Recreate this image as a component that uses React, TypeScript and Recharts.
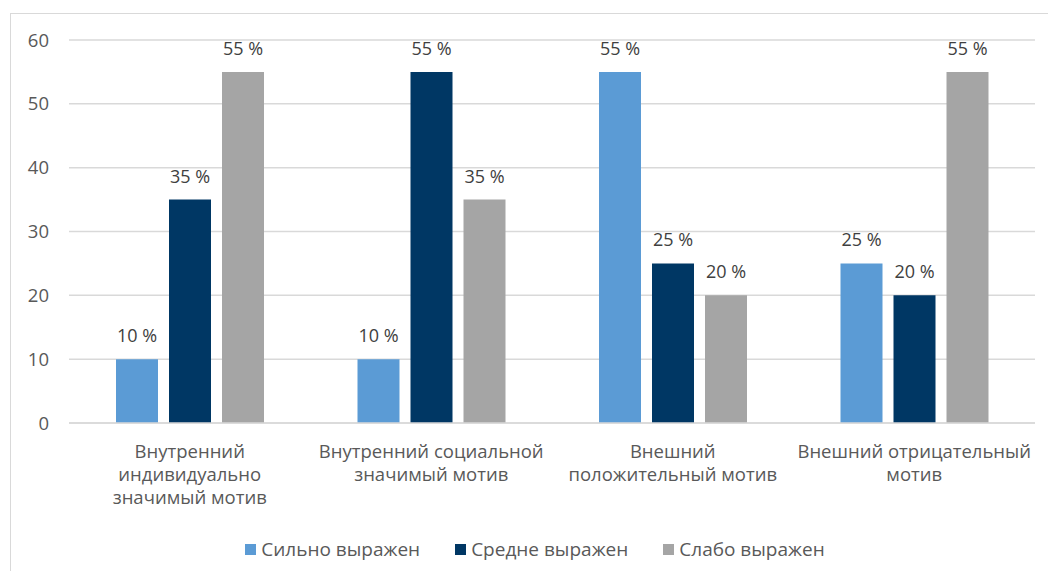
import { BarChart, Bar, XAxis, YAxis, CartesianGrid, Legend, LabelList } from 'recharts';

const categories = [
  'Внутренний\nиндивидуально\nзначимый мотив',
  'Внутренний социальной\nзначимый мотив',
  'Внешний\nположительный мотив',
  'Внешний отрицательный\nмотив',
];
const strong = [10, 10, 55, 25];
const medium = [35, 55, 25, 20];
const weak = [55, 35, 20, 55];
const yTicks = [0, 10, 20, 30, 40, 50, 60];

const seriesNames = ['Сильно выражен', 'Средне выражен', 'Слабо выражен'];
const seriesColors = ['#5b9bd5', '#003764', '#a5a5a5'];

const chartData = categories.map((name, i) => ({
  name,
  strong: strong[i],
  medium: medium[i],
  weak: weak[i],
}));

const FONT = '"Open Sans", sans-serif';
const TEXT = '#595959';

const CategoryTick = ({ x, y, payload }: any) => {
  const lines = String(payload.value).split('\n');
  return (
    <text x={x} y={y} textAnchor="middle" fill={TEXT} fontSize={18.5} fontFamily={FONT}>
      {lines.map((line, i) => (
        <tspan key={i} x={x} y={y + 33 + i * 23}>
          {line}
        </tspan>
      ))}
    </text>
  );
};

const LegendContent = () => (
  <div style={{ display: 'flex', justifyContent: 'center', alignItems: 'center', height: 26, gap: 35, paddingLeft: 10 }}>
    {seriesNames.map((n, i) => (
      <div key={n} style={{ display: 'flex', alignItems: 'center', gap: 5 }}>
        <div style={{ width: 11, height: 11, background: seriesColors[i] }} />
        <span style={{ color: TEXT, fontSize: 19, fontFamily: FONT }}>{n}</span>
      </div>
    ))}
  </div>
);

const pct = (v: any) => `${v} %`;

export default function App() {
  return (
    <div
      style={{
        position: 'absolute',
        left: 10,
        top: 13,
        width: 1040,
        height: 570,
        border: '1.5px solid #d9d9d9',
        background: '#fff',
        fontFamily: FONT,
      }}
    >
      <BarChart
        width={1038}
        height={560}
        data={chartData}
        margin={{ top: 26, right: 14, left: 0, bottom: 30 }}
        barSize={42}
        barGap={11}
      >
        <CartesianGrid vertical={false} stroke="#d9d9d9" strokeWidth={1.5} />
        <XAxis
          dataKey="name"
          axisLine={{ stroke: '#d9d9d9', strokeWidth: 1.5 }}
          tickLine={false}
          tickSize={0}
          height={95}
          interval={0}
          tick={<CategoryTick />}
        />
        <YAxis
          width={58}
          domain={[0, 60]}
          ticks={yTicks}
          axisLine={false}
          tickLine={false}
          tickSize={0}
          tickMargin={20}
          tick={{ fontSize: 18.5, fill: TEXT, fontFamily: FONT }}
        />
        <Legend verticalAlign="bottom" content={<LegendContent />} wrapperStyle={{ top: 522, left: 0, width: 1038 }} />
        <Bar dataKey="strong" name={seriesNames[0]} fill={seriesColors[0]} isAnimationActive={false}>
          <LabelList dataKey="strong" position="top" offset={17} formatter={pct} fill="#404040" fontSize={18} fontFamily={FONT} />
        </Bar>
        <Bar dataKey="medium" name={seriesNames[1]} fill={seriesColors[1]} isAnimationActive={false}>
          <LabelList dataKey="medium" position="top" offset={17} formatter={pct} fill="#404040" fontSize={18} fontFamily={FONT} />
        </Bar>
        <Bar dataKey="weak" name={seriesNames[2]} fill={seriesColors[2]} isAnimationActive={false}>
          <LabelList dataKey="weak" position="top" offset={17} formatter={pct} fill="#404040" fontSize={18} fontFamily={FONT} />
        </Bar>
      </BarChart>
    </div>
  );
}
